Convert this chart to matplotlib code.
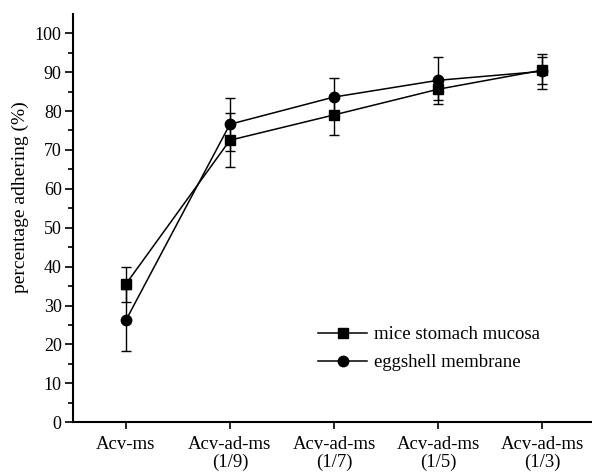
import matplotlib.pyplot as plt
from matplotlib.lines import Line2D
import numpy as np

# data
groups = ['Acv-ms', 'Acv-ad-ms\n(1/9)', 'Acv-ad-ms\n(1/7)', 'Acv-ad-ms\n(1/5)', 'Acv-ad-ms\n(1/3)']
mucosa = [35.5, 72.5, 79.0, 85.6, 90.5]
mucosa_err = [4.5, 6.9, 5.1, 2.7, 3.5]
eggshell = [26.2, 76.6, 83.6, 87.9, 90.2]
eggshell_err = [8.0, 6.8, 4.8, 6.1, 4.5]

plt.rcParams['font.family'] = ['Liberation Serif', 'DejaVu Serif']

fig = plt.figure(figsize=(5.92, 4.76), dpi=100)
ax = fig.add_axes([0.123, 0.113, 0.877, 0.858])

x = np.arange(len(groups))
ax.errorbar(x, mucosa, yerr=mucosa_err, color='black', marker='s', markersize=6.5,
            linewidth=1.1, elinewidth=1, capsize=3.5, capthick=1)
ax.errorbar(x, eggshell, yerr=eggshell_err, color='black', marker='o', markersize=7.5,
            linewidth=1.1, elinewidth=1, capsize=3.5, capthick=1)

ax.set_xlim(-0.51, 4.48)
ax.set_ylim(0, 105)
ax.set_yticks(np.arange(0, 101, 10))
ax.set_yticks(np.arange(5, 101, 10), minor=True)
ax.set_xticks(x)
ax.set_xticklabels(groups, fontsize=13.5, linespacing=1.05)
ax.tick_params(axis='y', labelsize=13, width=1.2, length=6, pad=2)
ax.tick_params(axis='y', which='minor', width=1.2, length=3.5)
ax.tick_params(axis='x', width=1.2, length=5, pad=5)
ax.set_ylabel('percentage adhering (%)', fontsize=14)
ax.yaxis.set_label_coords(-0.085, 0.55)

for s in ['top', 'right']:
    ax.spines[s].set_visible(False)
ax.spines['left'].set_linewidth(1.5)
ax.spines['bottom'].set_linewidth(1.5)

handles = [Line2D([], [], color='black', marker='s', markersize=6.5, linewidth=1.1),
           Line2D([], [], color='black', marker='o', markersize=7.5, linewidth=1.1)]
ax.legend(handles, ['mice stomach mucosa', 'eggshell membrane'], loc='center left',
          bbox_to_anchor=(0.44, 0.18), frameon=False, fontsize=13.5,
          handlelength=2.6, handletextpad=0.4, labelspacing=0.56)

fig.savefig('out.png', dpi=100)
